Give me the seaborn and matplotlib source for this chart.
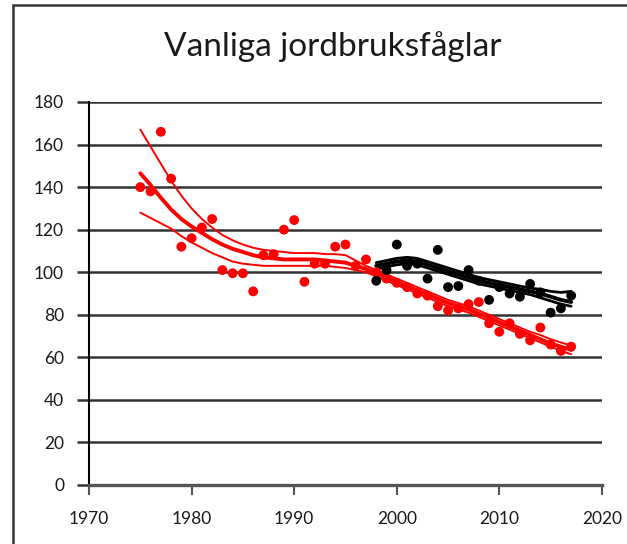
import numpy as np
import pandas as pd
import matplotlib
matplotlib.use("Agg")
import matplotlib.pyplot as plt
from matplotlib.patches import Rectangle
import seaborn as sns

# red series: 1975-2017
red_years = list(range(1975, 2018))
red_points = [140, 138, 166, 144, 112, 116, 121, 125, 101, 99.5,
              99.5, 91, 108, 108.5, 120, 124.5, 95.5, 104, 104, 112,
              113, 103, 106, 100, 97, 95, 93, 90, 89, 84,
              82, 83, 85, 86, 76, 72, 76, 71, 68, 74,
              66, 63, 65]
red_trend = [146.5, 141, 135, 129.5, 125, 121.5, 118.5, 115.5, 113, 111,
             109.5, 108, 107, 106.5, 106, 106, 106, 106, 105.5, 105,
             104.5, 103, 101.5, 99.5, 97.5, 95.5, 93.5, 91.5, 89.5, 87.5,
             85.5, 84, 82.5, 80.5, 78.5, 76.5, 74.5, 72.5, 70.5, 68.5,
             66.5, 65, 63.5]
red_upper = [167, 159, 151, 143, 136, 130, 125, 121, 117.5, 115,
             113, 111.5, 110.5, 110, 109.5, 109, 109, 109, 108.5, 108.5,
             108, 105.5, 103, 101, 99, 97, 95, 93, 91, 89,
             87, 85.5, 84, 82, 80, 78, 76, 74, 72, 70.5,
             68.5, 67, 65.5]
red_lower = [128, 125.5, 123, 120.5, 117, 114, 111.5, 109, 107, 105,
             104, 103.5, 103, 103, 103, 103, 103, 103, 103, 102.5,
             102, 101, 100, 98, 96, 94, 92, 90, 88, 86,
             84, 82.5, 81, 79, 77, 75, 73, 71, 69, 67,
             65, 63, 61.5]

# black series: 1998-2017
black_years = list(range(1998, 2018))
black_points = [96, 101, 113, 103, 104, 97, 110.5, 93, 93.5, 101,
                96, 87, 93, 90, 88.5, 94.5, 90.5, 81, 83, 89]
black_trend = [103, 104, 105, 105.5, 105, 103.5, 102, 100.5, 99, 97.5,
               96, 95, 94, 93, 92, 91, 90, 88.5, 87, 86]
black_upper = [104.5, 105.5, 106.5, 107, 106.5, 105, 103.5, 102, 100.5, 99,
               97.5, 96.5, 95.5, 94.5, 93.5, 92.5, 92, 91, 90.5, 91]
black_lower = [101.5, 102.5, 103.5, 104, 103.5, 102, 100.5, 99, 97.5, 96,
               94.5, 93.5, 92.5, 91.5, 90.5, 89.5, 88, 86.5, 85, 84]

x_ticks = [1970, 1980, 1990, 2000, 2010, 2020]
y_ticks = list(range(0, 181, 20))

red = pd.DataFrame({"year": red_years, "index": red_points, "trend": red_trend,
                    "upper": red_upper, "lower": red_lower})
black = pd.DataFrame({"year": black_years, "index": black_points, "trend": black_trend,
                      "upper": black_upper, "lower": black_lower})

sns.set_style("white")
plt.rcParams["font.family"] = ["Lato", "DejaVu Sans"]

fig = plt.figure(figsize=(6.27, 5.44), dpi=100)
ax = fig.add_axes([0.142, 0.1085, 0.818, 0.704])

# band widths: black bands look heavier in the original
for df, col, band_lw in [(red, "#ff0000", 1.4), (black, "#000000", 2.0)]:
    sns.lineplot(data=df, x="year", y="upper", color=col, lw=band_lw, ax=ax)
    sns.lineplot(data=df, x="year", y="lower", color=col, lw=band_lw, ax=ax)
    sns.lineplot(data=df, x="year", y="trend", color=col, lw=2.8, ax=ax)
    sns.scatterplot(data=df, x="year", y="index", color=col, s=50,
                    edgecolor="none", ax=ax, zorder=3)

ax.set_xlim(1970, 2020)
ax.set_ylim(0, 180)
ax.set_xticks(x_ticks)
ax.set_yticks(y_ticks)
ax.yaxis.grid(True, color="#333333", lw=1.8)
ax.set_axisbelow(True)
ax.set_xlabel("")
ax.set_ylabel("")

for side in ["top", "right"]:
    ax.spines[side].set_visible(False)
ax.spines["left"].set_color("black")
ax.spines["left"].set_linewidth(1.5)
ax.spines["bottom"].set_color("#555555")
ax.spines["bottom"].set_linewidth(2.4)

ax.tick_params(axis="y", length=9, width=1.8, color="#333333", pad=9,
               labelsize=12.5, labelcolor="#1a1a1a", left=True)
ax.tick_params(axis="x", length=7, width=1.5, color="#555555", pad=12,
               labelsize=12.5, labelcolor="#1a1a1a", bottom=True)

fig.text(0.531, 0.915, "Vanliga jordbruksfåglar", ha="center", va="center",
         fontsize=24, color="#1a1a1a")

fig.patches.append(Rectangle((13 / 627, -0.1), 1.2, 1.1 - 5 / 544,
                             transform=fig.transFigure, fill=False,
                             edgecolor="#333333", lw=1.8))

fig.savefig("out.png", dpi=100)
